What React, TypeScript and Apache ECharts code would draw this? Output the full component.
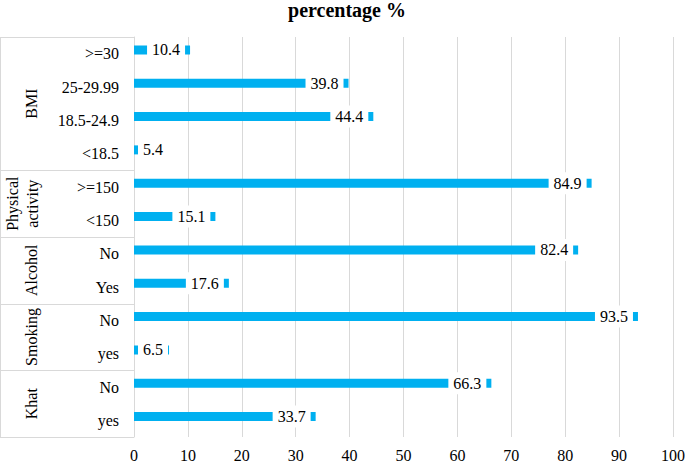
import React, { useEffect, useRef } from 'react';
import * as echarts from 'echarts';

const categories = ['>=30', '25-29.99', '18.5-24.9', '<18.5', '>=150', '<150', 'No', 'Yes', 'No', 'yes', 'No', 'yes'];
const values = [10.4, 39.8, 44.4, 5.4, 84.9, 15.1, 82.4, 17.6, 93.5, 6.5, 66.3, 33.7];
const groupNames = ['BMI', 'Physical\nactivity', 'Alcohol', 'Smoking', 'Khat'];
const groupSizes = [4, 2, 2, 2, 2];
const titleText = 'percentage %';

const W = 685;
const H = 462;
const GRID_LEFT = 134;
const GRID_RIGHT = 12;
const GRID_TOP = 37;
const GRID_BOTTOM = 25;
const FONT = 'Liberation Serif';
const LINE = '#d9d9d9';

export default function App() {
  const ref = useRef<HTMLDivElement>(null);
  useEffect(() => {
    if (!ref.current) return;
    const chart = echarts.init(ref.current, undefined, { renderer: 'svg' });
    const plotH = H - GRID_TOP - GRID_BOTTOM;
    const rowH = plotH / categories.length;
    const graphics: any[] = [];
    graphics.push({
      type: 'line',
      shape: { x1: 0.5, y1: GRID_TOP, x2: 0.5, y2: GRID_TOP + plotH },
      style: { stroke: LINE, lineWidth: 1 },
    });
    let cum = 0;
    const bounds = [0];
    groupSizes.forEach((s) => {
      cum += s;
      bounds.push(cum);
    });
    bounds.forEach((b) => {
      const y = Math.round(GRID_TOP + b * rowH) + 0.5;
      graphics.push({
        type: 'line',
        shape: { x1: 0, y1: y, x2: GRID_LEFT, y2: y },
        style: { stroke: LINE, lineWidth: 1 },
      });
    });
    groupNames.forEach((name, i) => {
      const mid = GRID_TOP + ((bounds[i] + bounds[i + 1]) / 2) * rowH;
      const multi = name.indexOf('\n') >= 0;
      graphics.push({
        type: 'text',
        x: multi ? 22 : 31,
        y: mid,
        rotation: Math.PI / 2,
        style: {
          text: name,
          textAlign: 'center',
          textVerticalAlign: 'middle',
          align: 'center',
          verticalAlign: 'middle',
          fontFamily: FONT,
          fontSize: 16,
          lineHeight: 20,
          fill: '#000',
        },
      });
    });
    graphics.push({
      type: 'text',
      x: 347,
      y: 10,
      style: {
        text: titleText,
        textAlign: 'center',
        textVerticalAlign: 'middle',
        align: 'center',
        verticalAlign: 'middle',
        fontFamily: FONT,
        fontSize: 20,
        fontWeight: 'bold',
        fill: '#000',
      },
    });

    chart.setOption({
      animation: false,
      backgroundColor: '#fff',
      textStyle: { fontFamily: FONT },
      grid: {
        left: GRID_LEFT,
        right: GRID_RIGHT,
        top: GRID_TOP,
        bottom: GRID_BOTTOM,
        containLabel: false,
        outerBoundsMode: 'none',
      },
      xAxis: {
        type: 'value',
        min: 0,
        max: 100,
        interval: 10,
        axisLine: { show: false },
        axisTick: { show: false },
        splitLine: { show: true, lineStyle: { color: LINE, width: 1 } },
        axisLabel: { color: '#000', fontFamily: FONT, fontSize: 16, margin: 10 },
      },
      yAxis: {
        type: 'category',
        inverse: true,
        data: categories,
        axisLine: { show: true, lineStyle: { color: LINE, width: 1 } },
        axisTick: { show: false },
        axisLabel: { color: '#000', fontFamily: FONT, fontSize: 16, margin: 15 },
      },
      series: [
        {
          type: 'bar',
          barWidth: 9,
          barGap: '-16%',
          itemStyle: { color: '#00B0F0' },
          label: {
            show: true,
            distance: 5,
            backgroundColor: '#fff',
            padding: [3, 5],
            color: '#000',
            fontFamily: FONT,
            fontSize: 16,
          },
          data: values.map((v) => ({
            value: v,
            label: { position: v < 8 ? 'insideLeft' : 'insideRight', distance: v < 8 ? 4 : 5 },
          })),
        },
        {
          type: 'bar',
          barWidth: 9,
          barGap: '-16%',
          silent: true,
          data: [],
        },
      ],
      graphic: graphics,
    });
    return () => chart.dispose();
  }, []);
  return <div ref={ref} style={{ position: 'fixed', left: 0, top: 0, width: W, height: H }} />;
}
